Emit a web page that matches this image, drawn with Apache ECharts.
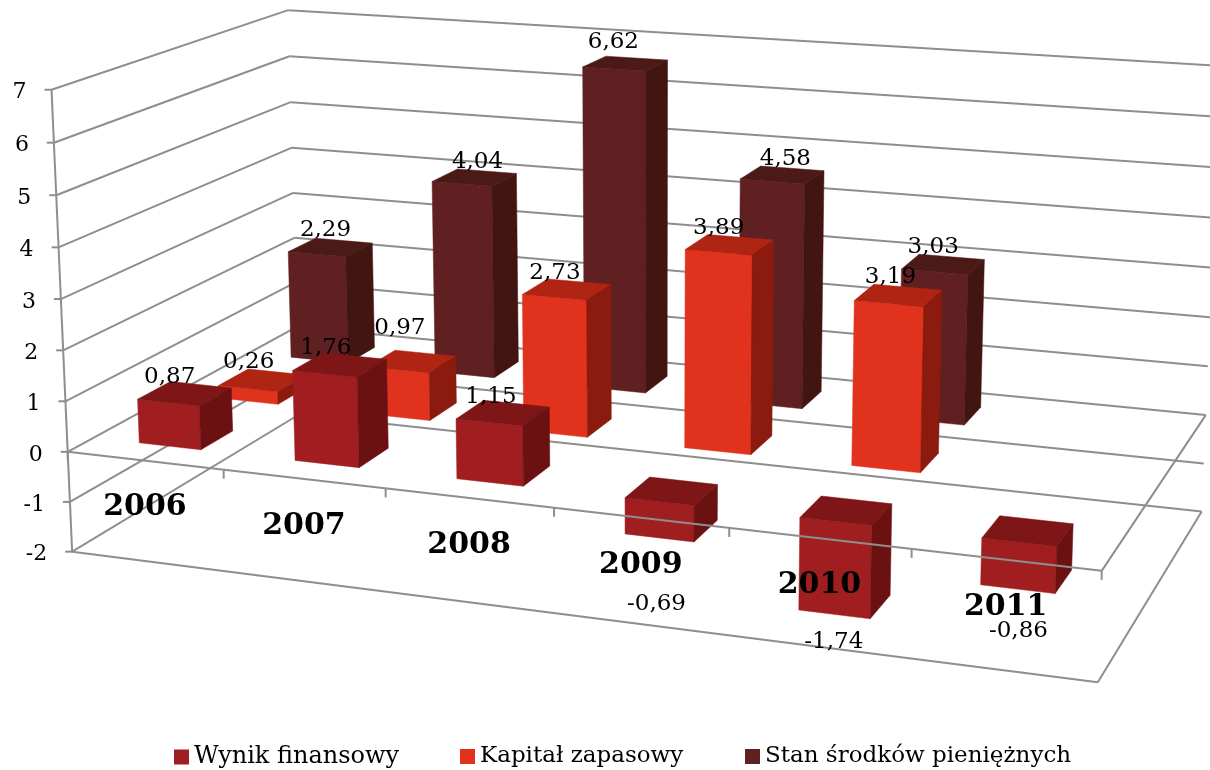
<!DOCTYPE html>
<html>
<head>
<meta charset="utf-8">
<title>Wynik finansowy</title>
<style>
html,body{margin:0;padding:0;background:#fff;}
#chart{width:1210px;height:770px;}
</style>
<script src="https://cdn.jsdelivr.net/npm/echarts@6/dist/echarts.min.js"></script>
</head>
<body>
<div id="chart"></div>
<script>
var categories = ['2006', '2007', '2008', '2009', '2010', '2011'];
var valueTicks = [7, 6, 5, 4, 3, 2, 1, 0, -1, -2];
var wynik = [0.87, 1.76, 1.15, -0.69, -1.74, -0.86];
var kapital = [0.26, 0.97, 2.73, 3.89, 3.19, null];
var stan = [2.29, 4.04, 6.62, 4.58, 3.03, null];

var SERIF = '"DejaVu Serif"';
var GRID_COLOR = '#8e8e8e';

// labels sit where excel dropped them, pixels off the default spot, per row and category
var labelNudge = [
	[[0, 0], [1, 0], [3, 1], [0, 37], [4, -1], [7, 14]],
	[[1, -1], [3, -16], [3, 1], [4, 0], [7, -1], [0, 0]],
	[[10, 0], [18, 2], [3, -4], [18, 1], [5, 0], [0, 0]]
];

// the 3d look: [category, value, depth] -> pixel, fitted on the corners of the box
var fitPoints = [
	[0, -2, 0, 73, 552], [0, 7, 0, 50, 89], [0, 0, 0, 68, 452],
	[1, 0, 0, 224, 470], [2, 0, 0, 386, 489], [3, 0, 0, 554, 508],
	[4, 0, 0, 729, 528], [5, 0, 0, 912, 549], [6, 0, 0, 1101, 571],
	[6, -2, 0, 1098, 681],
	[0, 7, 1, 290, 11], [0, -2, 1, 298, 413], [0, 0, 1, 296, 327],
	[6, -2, 1, 1202, 512], [6, 0, 1, 1206, 416], [6, 7, 1, 1220, 65]
];

function fitCamera(pts){
	var A = [], b = [];
	pts.forEach(function(p){
		var X = p[0], Y = p[1], Z = p[2], u = p[3], v = p[4];
		A.push([X, Y, Z, 1, 0, 0, 0, 0, -u * X, -u * Y, -u * Z]); b.push(u);
		A.push([0, 0, 0, 0, X, Y, Z, 1, -v * X, -v * Y, -v * Z]); b.push(v);
	});
	var n = 11, M = [];
	for (var i = 0; i < n; i++) {
		M[i] = [];
		for (var j = 0; j <= n; j++) {
			var s = 0;
			for (var k = 0; k < A.length; k++) {
				s += A[k][i] * (j < n ? A[k][j] : b[k]);
			}
			M[i][j] = s;
		}
	}
	for (var c = 0; c < n; c++) {
		var best = c;
		for (var r = c + 1; r < n; r++) {
			if (Math.abs(M[r][c]) > Math.abs(M[best][c])) best = r;
		}
		var t = M[c]; M[c] = M[best]; M[best] = t;
		for (var r2 = 0; r2 < n; r2++) {
			if (r2 === c) continue;
			var f = M[r2][c] / M[c][c];
			for (var q = c; q <= n; q++) M[r2][q] -= f * M[c][q];
		}
	}
	var m = [];
	for (var d = 0; d < n; d++) m[d] = M[d][n] / M[d][d];
	return m;
}
var cam = fitCamera(fitPoints);

function project(X, Y, Z){
	var w = cam[8] * X + cam[9] * Y + cam[10] * Z + 1;
	return [
		(cam[0] * X + cam[1] * Y + cam[2] * Z + cam[3]) / w,
		(cam[4] * X + cam[5] * Y + cam[6] * Z + cam[7]) / w
	];
}

// hidden axes give the scales, 100px a category and 70px a value unit
function catPos(api, i){ return api.coord([i, 0])[0] / 100; }
function valPos(api, v){ return 7 - api.coord([0, v])[1] / 70; }

var BAR_W = 0.2, ROW_Z = [0.1, 0.4333, 0.7667], BAR_D = 0.1333;

function poly(pts, color){
	return {
		type: 'polygon',
		shape: {points: pts},
		style: {fill: color, stroke: color, lineWidth: 0.5}
	};
}
function line(a, b){
	return {
		type: 'line',
		shape: {x1: a[0], y1: a[1], x2: b[0], y2: b[1]},
		style: {stroke: GRID_COLOR, lineWidth: 2, fill: null}
	};
}

function barRender(row, front, top, side){
	return function(params, api){
		var v = api.value(1);
		if (v === null || isNaN(v)) return;
		var c = catPos(api, api.value(0));
		var x0 = c - BAR_W, x1 = c + BAR_W;
		var z0 = ROW_Z[row], z1 = z0 + BAR_D;
		var hi = valPos(api, Math.max(v, 0)), lo = valPos(api, Math.min(v, 0));
		return {
			type: 'group',
			children: [
				poly([project(x0, lo, z0), project(x1, lo, z0), project(x1, hi, z0), project(x0, hi, z0)], front),
				poly([project(x0, hi, z0), project(x1, hi, z0), project(x1, hi, z1), project(x0, hi, z1)], top),
				poly([project(x1, lo, z0), project(x1, lo, z1), project(x1, hi, z1), project(x1, hi, z0)], side)
			]
		};
	};
}

function barSeries(name, values, row, front, top, side){
	return {
		name: name,
		type: 'custom',
		z: 8 - row,
		silent: true,
		itemStyle: {color: front},
		encode: {x: 0, y: 1},
		data: values.map(function(v, i){ return [i, v]; }),
		renderItem: barRender(row, front, top, side)
	};
}

// the walls behind the bars
function wallRender(params, api){
	var v = api.value(1);
	var y = valPos(api, v);
	var a = project(0, y, 0), b = project(0, y, 1), c = project(6, y, 1);
	var kids = [line(a, b), line(b, c), line(a, [a[0] - 7, a[1]])];
	if (v === valueTicks[0]) {
		kids.push(line(a, project(0, valPos(api, valueTicks[valueTicks.length - 1]), 0)));
	}
	return {type: 'group', children: kids};
}

// edges of the floor and the zero plane, they run over the negative bars
function planeRender(params, api){
	var y = valPos(api, api.value(1));
	var a = project(0, y, 0), b = project(6, y, 0), c = project(6, y, 1);
	var kids = [line(a, b), line(b, c)];
	if (api.value(1) === 0) {
		for (var i = 0; i <= categories.length; i++) {
			var t = project(i, y, 0);
			kids.push(line(t, [t[0], t[1] + 9]));
		}
	}
	return {type: 'group', children: kids};
}

function tickLabelRender(params, api){
	var v = api.value(1);
	var p = project(0, valPos(api, v), 0);
	return {
		type: 'text',
		x: p[0] - 25,
		y: p[1] + 3,
		style: {
			text: String(v),
			fill: '#000',
			font: '22px ' + SERIF,
			align: 'right',
			verticalAlign: 'middle'
		}
	};
}

function catLabelRender(params, api){
	var p = project(catPos(api, api.value(0)), 0, 0);
	return {
		type: 'text',
		x: p[0],
		y: p[1] + 47,
		style: {
			text: categories[api.value(0)],
			fill: '#000',
			font: 'bold 30px ' + SERIF,
			align: 'center',
			verticalAlign: 'middle'
		}
	};
}

function valueLabelRender(params, api){
	var v = api.value(1);
	if (v === null || isNaN(v)) return;
	var row = api.value(2), i = api.value(0);
	var nudge = labelNudge[row][i];
	var p = project(catPos(api, i), valPos(api, v), ROW_Z[row] + BAR_D / 2);
	return {
		type: 'text',
		x: p[0] - 15 + nudge[0],
		y: p[1] + (v < 0 ? 40 : -17) + nudge[1],
		style: {
			text: v.toFixed(2).replace('.', ','),
			fill: '#000',
			font: '23px ' + SERIF,
			align: 'center',
			verticalAlign: 'middle'
		}
	};
}

function helperSeries(data, z, render){
	return {
		type: 'custom',
		z: z,
		silent: true,
		clip: false,
		encode: {x: 0, y: 1},
		data: data,
		renderItem: render
	};
}

function legendAt(left, name, size){
	return {
		left: left,
		top: 745,
		itemWidth: 15,
		itemHeight: 15,
		icon: 'rect',
		selectedMode: false,
		padding: 0,
		data: [name],
		textStyle: {color: '#000', fontFamily: SERIF, fontSize: size}
	};
}

var tickData = valueTicks.map(function(v){ return [0, v]; });
var catData = categories.map(function(c, i){ return [i, 0]; });
var labelData = [];
[wynik, kapital, stan].forEach(function(values, row){
	values.forEach(function(v, i){ labelData.push([i, v, row]); });
});

var myChart = echarts.init(document.getElementById('chart'));
myChart.setOption({
	animation: false,
	backgroundColor: '#fff',
	grid: {left: 0, top: 0, width: 600, height: 630, show: false},
	xAxis: {type: 'category', data: categories, show: false},
	yAxis: {type: 'value', min: -2, max: 7, interval: 1, show: false},
	legend: [
		legendAt(174, 'Wynik finansowy', 24),
		legendAt(460, 'Kapitał zapasowy', 23),
		legendAt(745, 'Stan środków pieniężnych', 23)
	],
	series: [
		helperSeries(tickData, 2, wallRender),
		barSeries('Wynik finansowy', wynik, 0, '#a01e1f', '#7e1517', '#6b1112'),
		barSeries('Kapitał zapasowy', kapital, 1, '#e1321e', '#af2413', '#8b1b0e'),
		barSeries('Stan środków pieniężnych', stan, 2, '#602021', '#4b1916', '#421511'),
		helperSeries([[0, 0], [0, -2]], 10, planeRender),
		helperSeries(tickData, 11, tickLabelRender),
		helperSeries(catData, 11, catLabelRender),
		helperSeries(labelData, 12, valueLabelRender)
	]
});
window.addEventListener('resize', function(){
	myChart.resize();
});
</script>
</body>
</html>
